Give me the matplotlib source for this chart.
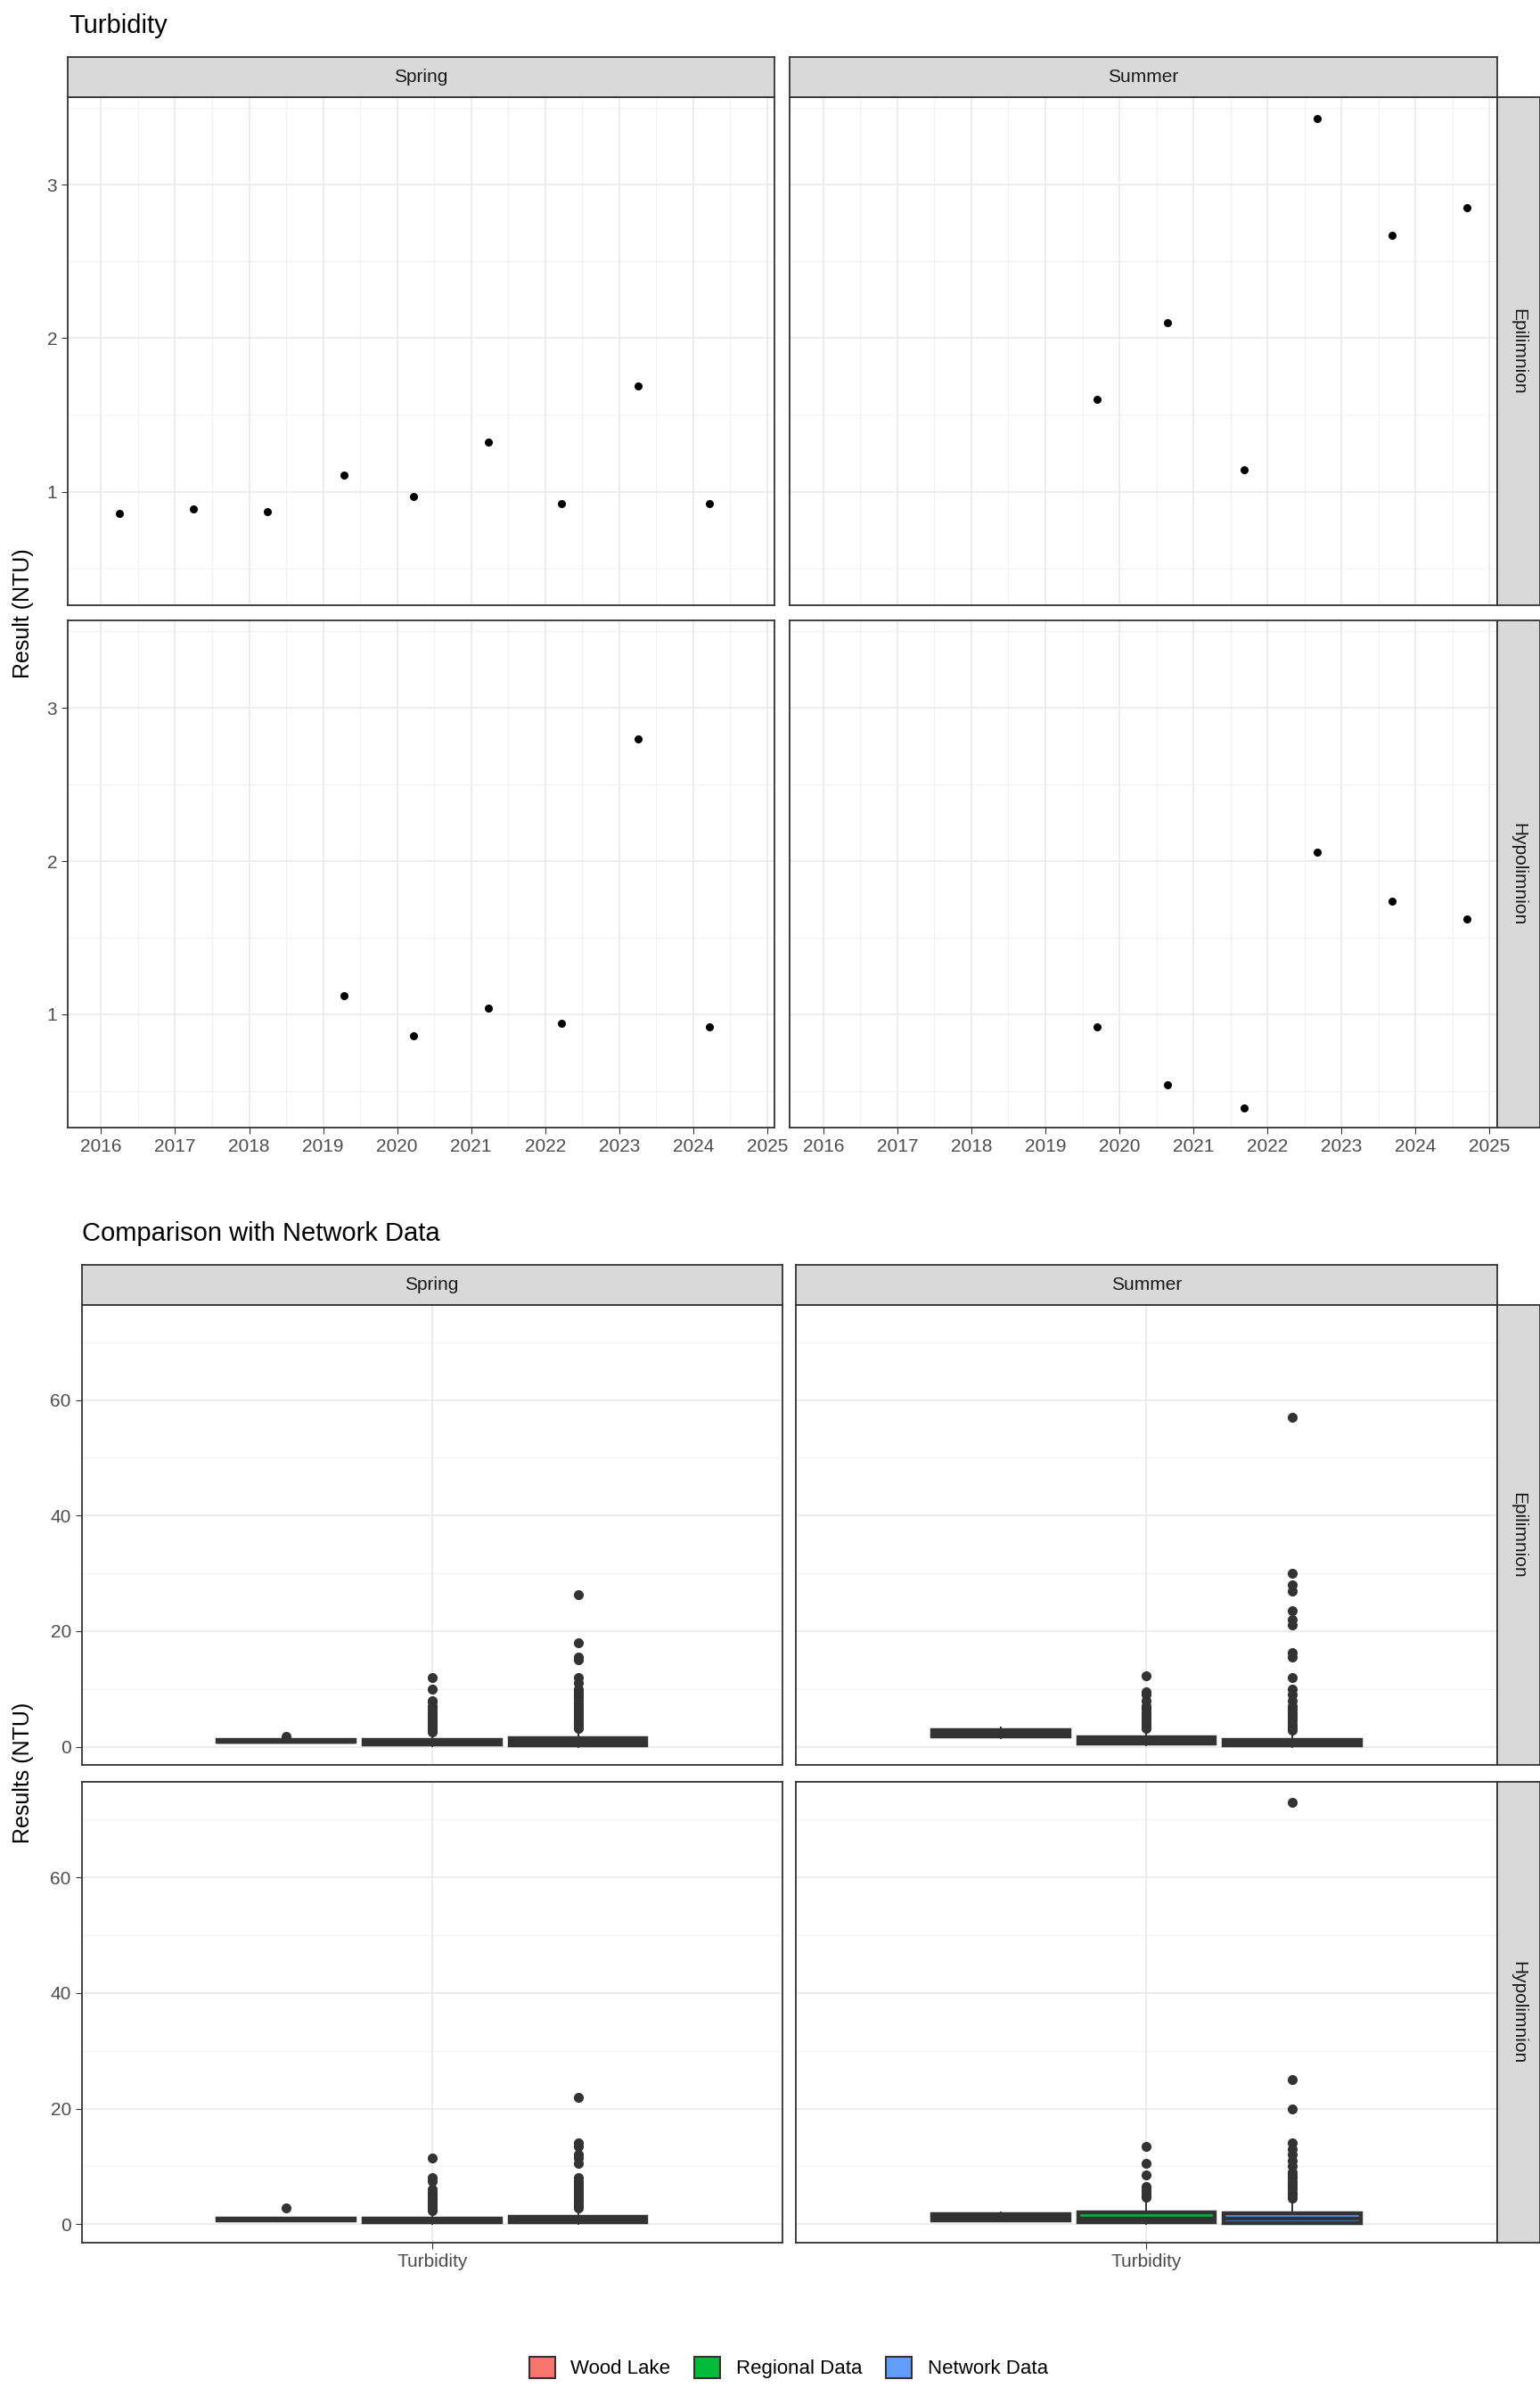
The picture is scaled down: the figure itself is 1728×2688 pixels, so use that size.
import numpy as np
import matplotlib.pyplot as plt
from matplotlib.patches import Patch
from matplotlib.ticker import MultipleLocator

plt.rcParams['font.family'] = 'Liberation Sans'

# ---- scatter data (year, NTU) ----
spring_epi_x = [2016.25, 2017.25, 2018.25, 2019.28, 2020.22, 2021.23, 2022.22, 2023.25, 2024.22]
spring_epi_y = [0.86, 0.89, 0.87, 1.11, 0.97, 1.32, 0.92, 1.69, 0.92]
summer_epi_x = [2019.7, 2020.65, 2021.68, 2022.67, 2023.68, 2024.7]
summer_epi_y = [1.60, 2.10, 1.14, 3.43, 2.67, 2.85]
spring_hypo_x = [2019.28, 2020.22, 2021.23, 2022.22, 2023.25, 2024.22]
spring_hypo_y = [1.12, 0.86, 1.04, 0.94, 2.80, 0.92]
summer_hypo_x = [2019.7, 2020.65, 2021.68, 2022.67, 2023.68, 2024.7]
summer_hypo_y = [0.92, 0.54, 0.39, 2.06, 1.74, 1.62]

years = list(range(2016, 2026))
seasons = ['Spring', 'Summer']
layers = ['Epilimnion', 'Hypolimnion']
groups = ['Wood Lake', 'Regional Data', 'Network Data']
group_colors = ['#F8766D', '#00BA38', '#619CFF']

# ---- box stats: (whislo, q1, med, q3, whishi, fliers) per group ----
spring_epi_box = [
    (0.7, 0.8, 0.9, 1.2, 1.3, [1.8]),
    (0.1, 0.4, 0.7, 1.1, 2.2, [2.5, 2.8, 3.0, 3.2, 3.5, 3.8, 4.0, 4.3, 4.6, 5.0, 5.3, 5.6, 6.0, 6.5, 7.0, 7.8, 8.0, 10.0, 12.0]),
    (0.0, 0.3, 0.8, 1.5, 3.0, [3.2, 3.5, 3.8, 4.1, 4.4, 4.7, 5.0, 5.4, 5.8, 6.2, 6.6, 7.0, 7.5, 8.0, 8.5, 9.0, 9.5, 10.0, 11.0, 12.0, 15.0, 15.5, 18.0, 26.3]),
]
summer_epi_box = [
    (1.5, 1.8, 2.3, 2.9, 3.4, []),
    (0.2, 0.6, 1.0, 1.6, 3.0, [3.2, 3.6, 4.0, 4.4, 4.8, 5.2, 5.6, 6.0, 6.5, 7.0, 8.0, 9.0, 9.5, 12.2]),
    (0.0, 0.3, 0.6, 1.2, 2.6, [2.8, 3.2, 3.6, 4.0, 4.5, 5.0, 5.5, 6.0, 6.5, 7.0, 8.0, 9.0, 10.0, 12.0, 15.5, 16.3, 21.0, 22.0, 23.5, 27.0, 28.0, 30.0, 57.0]),
]
spring_hypo_box = [
    (0.6, 0.7, 0.85, 1.0, 1.1, [2.8]),
    (0.0, 0.3, 0.6, 1.0, 2.0, [2.3, 2.7, 3.0, 3.4, 3.8, 4.2, 4.6, 5.0, 5.5, 6.0, 7.5, 8.0, 11.5]),
    (0.0, 0.3, 0.7, 1.3, 2.5, [2.8, 3.2, 3.6, 4.0, 4.4, 4.8, 5.2, 5.6, 6.0, 6.5, 7.0, 7.5, 8.0, 10.5, 11.5, 12.0, 13.5, 14.0, 22.0]),
]
summer_hypo_box = [
    (0.5, 0.7, 1.2, 1.8, 2.1, []),
    (0.0, 0.3, 0.9, 2.1, 4.3, [4.6, 5.0, 5.4, 5.8, 6.2, 6.5, 8.5, 10.5, 13.5]),
    (0.0, 0.2, 0.9, 1.9, 4.2, [4.5, 5.0, 5.5, 6.0, 6.5, 7.0, 7.5, 8.0, 8.5, 9.0, 10.0, 11.0, 12.0, 13.0, 14.0, 20.0, 25.0, 73.0]),
]

scatter = {('Spring', 'Epilimnion'): (spring_epi_x, spring_epi_y),
           ('Summer', 'Epilimnion'): (summer_epi_x, summer_epi_y),
           ('Spring', 'Hypolimnion'): (spring_hypo_x, spring_hypo_y),
           ('Summer', 'Hypolimnion'): (summer_hypo_x, summer_hypo_y)}
boxes = {('Spring', 'Epilimnion'): spring_epi_box,
         ('Summer', 'Epilimnion'): summer_epi_box,
         ('Spring', 'Hypolimnion'): spring_hypo_box,
         ('Summer', 'Hypolimnion'): summer_hypo_box}

W, H = 1728, 2688
S = 1.728  # reference display -> pixel
fig = plt.figure(figsize=(W / 100, H / 100), dpi=100)


def rect(x0, y0, x1, y1):
    return [x0 * S / W, 1 - y1 * S / H, (x1 - x0) * S / W, (y1 - y0) * S / H]


def style(ax):
    ax.set_facecolor('white')
    ax.grid(which='major', color='#ebebeb', lw=1.3, zorder=0)
    ax.grid(which='minor', color='#f0f0f0', lw=0.7, zorder=0)
    ax.set_axisbelow(True)
    for sp in ax.spines.values():
        sp.set_color('#333333')
        sp.set_linewidth(1.3)
    ax.tick_params(which='major', length=5, color='#333333', labelsize=15, labelcolor='#4d4d4d')
    ax.tick_params(which='minor', length=0)


def strip(x0, y0, x1, y1, text, rot=0):
    sa = fig.add_axes(rect(x0, y0, x1, y1))
    sa.set_facecolor('#d9d9d9')
    sa.set_xticks([]); sa.set_yticks([])
    for sp in sa.spines.values():
        sp.set_color('#333333'); sp.set_linewidth(1.3)
    sa.text(0.5, 0.5, text, rotation=rot, ha='center', va='center', fontsize=15, color='#1a1a1a',
            transform=sa.transAxes)


# ---- top section: scatter ----
fig.text(45 * S / W, 1 - 17 * S / H, 'Turbidity', fontsize=21, va='center')
cols = [(44, 503), (513, 972)]
rows = [(63, 393), (403, 732)]
for ri, layer in enumerate(layers):
    for ci, season in enumerate(seasons):
        x0, x1 = cols[ci]; y0, y1 = rows[ri]
        ax = fig.add_axes(rect(x0, y0, x1, y1))
        style(ax)
        xs, ys = scatter[(season, layer)]
        ax.scatter(xs, ys, s=30, color='black', zorder=3)
        ax.set_xlim(2015.55, 2025.1)
        ax.set_ylim(0.26, 3.57)
        ax.set_xticks(years)
        ax.xaxis.set_minor_locator(MultipleLocator(0.5))
        ax.set_yticks([1, 2, 3])
        ax.yaxis.set_minor_locator(MultipleLocator(0.5))
        if ci == 1:
            ax.tick_params(axis='y', which='both', left=False, labelleft=False)
        if ri == 0:
            ax.tick_params(axis='x', which='both', bottom=False, labelbottom=False)
        if ri == 0:
            strip(x0, 37, x1, 63, season)
        if ci == 1:
            strip(972, y0, 1000, y1, layer, rot=-90)
fig.text(15 * S / W, 1 - 398 * S / H, 'Result (NTU)', rotation=90, fontsize=18, ha='center', va='center')

# ---- bottom section: boxplots ----
fig.text(53 * S / W, 1 - 801 * S / H, 'Comparison with Network Data', fontsize=21, va='center')
cols = [(53, 508), (517, 972)]
rows = [(847, 1146), (1157, 1456)]
offsets = [-0.25, 0.0, 0.25]
for ri, layer in enumerate(layers):
    for ci, season in enumerate(seasons):
        x0, x1 = cols[ci]; y0, y1 = rows[ri]
        ax = fig.add_axes(rect(x0, y0, x1, y1))
        style(ax)
        stats = []
        for (lo, q1, med, q3, hi, fl) in boxes[(season, layer)]:
            stats.append(dict(whislo=lo, q1=q1, med=med, q3=q3, whishi=hi, fliers=fl))
        bp = ax.bxp(stats, positions=[1 + o for o in offsets], widths=0.235, patch_artist=True,
                    showcaps=False,
                    boxprops=dict(edgecolor='#333333', linewidth=3.2),
                    medianprops=dict(color='#333333', linewidth=3.2),
                    whiskerprops=dict(color='#333333', linewidth=1.4),
                    flierprops=dict(marker='o', markerfacecolor='#333333', markeredgecolor='#333333',
                                    markersize=7))
        for patch, c in zip(bp['boxes'], group_colors):
            patch.set_facecolor(c)
        ax.set_xlim(0.4, 1.6)
        ax.set_ylim(-3.2, 76.5)
        ax.set_xticks([1])
        ax.set_xticklabels(['Turbidity'])
        ax.set_yticks([0, 20, 40, 60])
        ax.yaxis.set_minor_locator(MultipleLocator(10))
        if ci == 1:
            ax.tick_params(axis='y', which='both', left=False, labelleft=False)
        if ri == 0:
            ax.tick_params(axis='x', which='both', bottom=False, labelbottom=False)
        if ri == 0:
            strip(x0, 821, x1, 847, season)
        if ci == 1:
            strip(972, y0, 1000, y1, layer, rot=-90)
fig.text(15 * S / W, 1 - 1151 * S / H, 'Results (NTU)', rotation=90, fontsize=18, ha='center', va='center')

handles = [Patch(facecolor=c, edgecolor='#333333', linewidth=1.5) for c in group_colors]
fig.legend(handles, groups, loc='center', bbox_to_anchor=(0.512, 1 - 1537 * S / H), ncol=3,
           frameon=False, fontsize=16, handlelength=1.3, handleheight=1.3, columnspacing=1.2)

fig.savefig('out.png', dpi=100, facecolor='white')
